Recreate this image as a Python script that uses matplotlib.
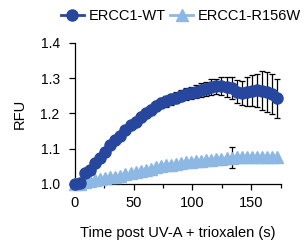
import numpy as np
import matplotlib
matplotlib.use("Agg")
import matplotlib.pyplot as plt
from matplotlib.ticker import MultipleLocator
from matplotlib.lines import Line2D

plt.rcParams["font.family"] = ["Liberation Sans", "DejaVu Sans"]

time_s = [0, 4.3, 8.6, 12.9, 17.2, 21.5, 25.8, 30.1, 34.4, 38.7, 43.0, 47.3, 51.6,
          55.9, 60.2, 64.5, 68.8, 73.1, 77.4, 81.7, 86.0, 90.3, 94.6, 98.9, 103.2,
          107.5, 111.8, 116.1, 120.4, 124.7, 129.0, 133.3, 137.6, 141.9, 146.2,
          150.5, 154.8, 159.1, 163.4, 167.7, 172.0]

wt_rfu = [1.0, 1.003, 1.03, 1.04, 1.06, 1.075, 1.09, 1.11, 1.125, 1.135, 1.153,
          1.167, 1.177, 1.19, 1.2, 1.21, 1.222, 1.229, 1.234, 1.24, 1.245, 1.25,
          1.255, 1.258, 1.262, 1.267, 1.27, 1.275, 1.277, 1.277, 1.276, 1.272,
          1.262, 1.258, 1.262, 1.265, 1.266, 1.265, 1.262, 1.255, 1.243]
wt_err = [0.0, 0.004, 0.005, 0.006, 0.006, 0.007, 0.008, 0.008, 0.009, 0.01, 0.012,
          0.012, 0.012, 0.013, 0.013, 0.013, 0.014, 0.014, 0.015, 0.015, 0.016,
          0.016, 0.017, 0.018, 0.018, 0.02, 0.02, 0.022, 0.022, 0.025, 0.028,
          0.032, 0.033, 0.035, 0.04, 0.045, 0.047, 0.055, 0.057, 0.057, 0.056]

mut_rfu = [1.0, 1.0, 1.005, 1.008, 1.01, 1.013, 1.016, 1.019, 1.021, 1.024, 1.027,
           1.03, 1.033, 1.036, 1.04, 1.043, 1.047, 1.05, 1.053, 1.055, 1.057,
           1.059, 1.061, 1.063, 1.065, 1.066, 1.068, 1.069, 1.07, 1.072, 1.073,
           1.075, 1.076, 1.076, 1.076, 1.077, 1.077, 1.077, 1.077, 1.077, 1.077]
mut_err = [0.0] * 31 + [0.03] + [0.0] * 9

wt_color = "#27479E"
mut_color = "#8DB8E3"

fig = plt.figure(figsize=(3.07, 2.44), dpi=100)
ax = fig.add_axes([0.244, 0.246, 0.67, 0.578])

# error bars first, markers on top
ax.errorbar(time_s, mut_rfu, yerr=mut_err, fmt="none", ecolor="black",
            elinewidth=0.9, capsize=2.5, capthick=0.9, clip_on=False, zorder=2)
ax.plot(time_s, mut_rfu, color=mut_color, marker="^", markersize=8, lw=2,
        clip_on=False, zorder=3)
ax.errorbar(time_s, wt_rfu, yerr=wt_err, fmt="none", ecolor="black",
            elinewidth=0.9, capsize=2.5, capthick=0.9, clip_on=False, zorder=4)
ax.plot(time_s, wt_rfu, color=wt_color, marker="o", markersize=8, lw=2,
        clip_on=False, zorder=5)

ax.set_xlim(0, 175)
ax.set_ylim(1.0, 1.4)
ax.xaxis.set_major_locator(MultipleLocator(50))
ax.xaxis.set_minor_locator(MultipleLocator(25))
ax.yaxis.set_major_locator(MultipleLocator(0.1))
ax.tick_params(axis="both", which="major", direction="out", length=4, width=0.9)
ax.tick_params(axis="x", which="minor", direction="out", length=3, width=0.9)
ax.tick_params(axis="x", labelsize=10.5, pad=5)
ax.tick_params(axis="y", labelsize=10, pad=7)
ax.spines["top"].set_visible(False)
ax.spines["right"].set_visible(False)
ax.spines["left"].set_linewidth(0.9)
ax.spines["bottom"].set_linewidth(0.9)
ax.set_ylabel("RFU", fontsize=10.5, labelpad=10)
ax.set_xlabel("Time post UV-A + trioxalen (s)", fontsize=10.5, labelpad=11)

handles = [Line2D([], [], color=wt_color, marker="o", markersize=8, lw=2),
           Line2D([], [], color=mut_color, marker="^", markersize=8, lw=2)]
fig.legend(handles, ["ERCC1-WT", "ERCC1-R156W"], loc="center left",
           bbox_to_anchor=(0.155, 0.935), ncol=2, frameon=False, fontsize=10.5,
           handlelength=1.6, handletextpad=0.3, columnspacing=0.3)

fig.savefig("out.png", dpi=100)
